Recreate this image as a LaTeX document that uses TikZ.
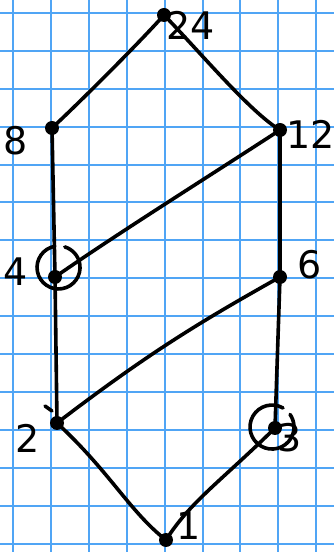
\documentclass[tikz,border=0pt]{standalone}
\usepackage{fontspec}
\setsansfont{DejaVu Sans}
\begin{document}
\begin{tikzpicture}[x=1pt,y=1pt,
  gridline/.style={draw=gridblue,line width=2pt},
  edge/.style={draw=black,line width=3.6pt,line cap=round,line join=round},
  vert/.style={circle,fill=black,inner sep=0pt,minimum width=13pt,minimum height=14pt},
  lbl/.style={font=\sffamily\fontsize{38}{38}\selectfont,inner sep=0pt},
  ring/.style={draw=black,line width=3.6pt,line cap=round}]
\definecolor{gridblue}{RGB}{80,165,245}
\useasboundingbox (0,0) rectangle (334,552);
\clip (0,0) rectangle (334,552);
\fill[white] (0,0) rectangle (334,552);
\foreach \i in {0,...,8} {
  \draw[gridline] ({13+37.9*\i},0) -- ({13+37.9*\i},552);
}
\foreach \i in {0,...,14} {
  \draw[gridline] (0,{539-37.9*\i}) -- (334,{539-37.9*\i});
}
% vertices
\node[vert] (n24) at (164,537) {};
\node[vert] (n8) at (52,424) {};
\node[vert] (n12) at (280,422) {};
\node[vert] (n4) at (55,275) {};
\node[vert] (n6) at (280,275) {};
\node[vert] (n2) at (57,129) {};
\node[vert] (n3) at (275,124) {};
\node[vert] (n1) at (166,12) {};
% edges
\draw[edge] (n24.center) .. controls (140,510) and (80,450) .. (n8.center);
\draw[edge] (n24.center) .. controls (200,500) and (250,440) .. (n12.center);
\draw[edge] (n8.center) -- (n4.center);
\draw[edge] (n12.center) .. controls (200,370) and (120,320) .. (n4.center);
\draw[edge] (n4.center) -- (n2.center);
\draw[edge] (n6.center) .. controls (200,230) and (150,200) .. (n2.center);
\draw[edge] (n12.center) -- (n6.center);
\draw[edge] (n6.center) -- (n3.center);
\draw[edge] (n2.center) .. controls (110,80) and (130,40) .. (n1.center);
\draw[edge] (n3.center) .. controls (220,70) and (190,50) .. (n1.center);
% circles around 4 and 3
\draw[ring] (54.8,305.7) arc[start angle=100,end angle=433,radius=21.5];
\draw[ring] (283,144) arc[start angle=60,end angle=395,radius=22];
% small mark near 2
\draw[ring] (45,146) -- (52,141);
% labels
\node[lbl] (l24) at (191,527) {24};
\node[lbl] (l8) at (16,411) {8};
\node[lbl] (l12) at (311,418) {12};
\node[lbl] (l4) at (16,280) {4};
\node[lbl] (l6) at (310,287) {6};
\node[lbl] (l2) at (28,114) {2};
\node[lbl] (l3) at (290,114) {3};
\node[lbl,anchor=north] (l1) at (189,40) {1};
\end{tikzpicture}
\end{document}
